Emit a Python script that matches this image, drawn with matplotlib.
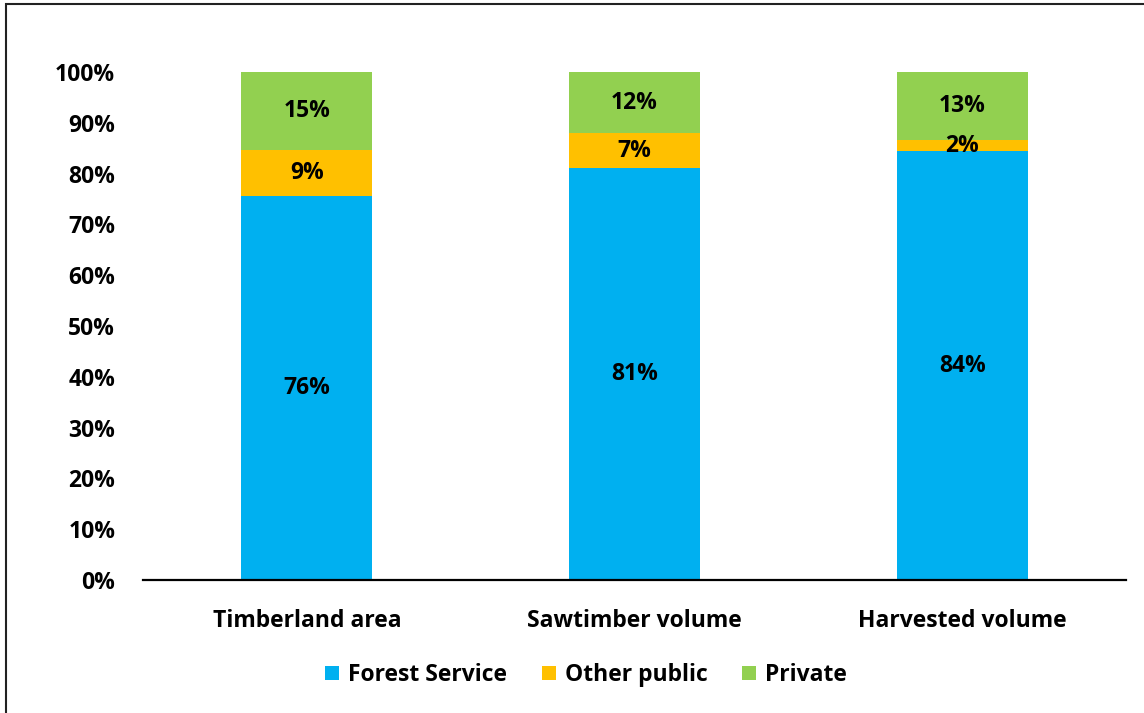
import matplotlib
matplotlib.use("Agg")
import matplotlib.pyplot as plt
from matplotlib.patches import Rectangle
import numpy as np

categories = ["Timberland area", "Sawtimber volume", "Harvested volume"]
series_names = ["Forest Service", "Other public", "Private"]
forest_service = [75.6, 81.1, 84.4]
other_public = [9.1, 6.8, 2.2]
private = [15.3, 12.1, 13.4]
colors = ["#00B0F0", "#FFC000", "#92D050"]

plt.rcParams["font.family"] = ["Open Sans", "DejaVu Sans"]
plt.rcParams["font.weight"] = "bold"
FS = 16.5

W, H = 1144, 713
fig = plt.figure(figsize=(W / 100, H / 100), dpi=100)
ax = fig.add_axes([143 / W, (H - 580) / H, (1126 - 143) / W, (580 - 72) / H])

x = np.arange(len(categories))
bottom = np.zeros(len(categories))
handles = []
for name, vals, col in zip(series_names, [forest_service, other_public, private], colors):
    vals = np.array(vals)
    b = ax.bar(x, vals, 0.4, bottom=bottom, color=col, label=name, clip_on=False)
    handles.append(b)
    # data labels, centred in each segment
    for xi, v, bo in zip(x, vals, bottom):
        ax.text(xi, bo + v / 2, f"{round(v):.0f}%", ha="center", va="center",
                fontsize=FS, fontweight="bold", color="black")
    bottom += vals

ax.set_xlim(-0.5, 2.5)
ax.set_ylim(0, 100)
ax.set_yticks(np.arange(0, 101, 10))
ax.set_yticklabels([f"{t}%" for t in range(0, 101, 10)], fontsize=FS, fontweight="bold")
ax.set_xticks(x)
ax.set_xticklabels(categories, fontsize=FS, fontweight="bold")
ax.tick_params(axis="both", length=0)
ax.tick_params(axis="y", pad=20)
ax.tick_params(axis="x", pad=21)
for s in ["top", "right", "left"]:
    ax.spines[s].set_visible(False)
ax.spines["bottom"].set_linewidth(1.6)
ax.spines["bottom"].set_color("black")

fig.legend(handles=handles, labels=series_names, loc="center",
           bbox_to_anchor=(586 / W, (H - 675) / H), ncol=3, frameon=False,
           fontsize=FS, handlelength=0.62, handleheight=0.62,
           handletextpad=0.4, columnspacing=1.5)

# outer chart frame (cropped on right and bottom)
fig.patches.append(Rectangle((6 / W, -0.05), 1.2, (H - 4) / H + 0.05,
                             transform=fig.transFigure, fill=False,
                             edgecolor="#222222", linewidth=1.5))

fig.savefig("out.png", dpi=100)
